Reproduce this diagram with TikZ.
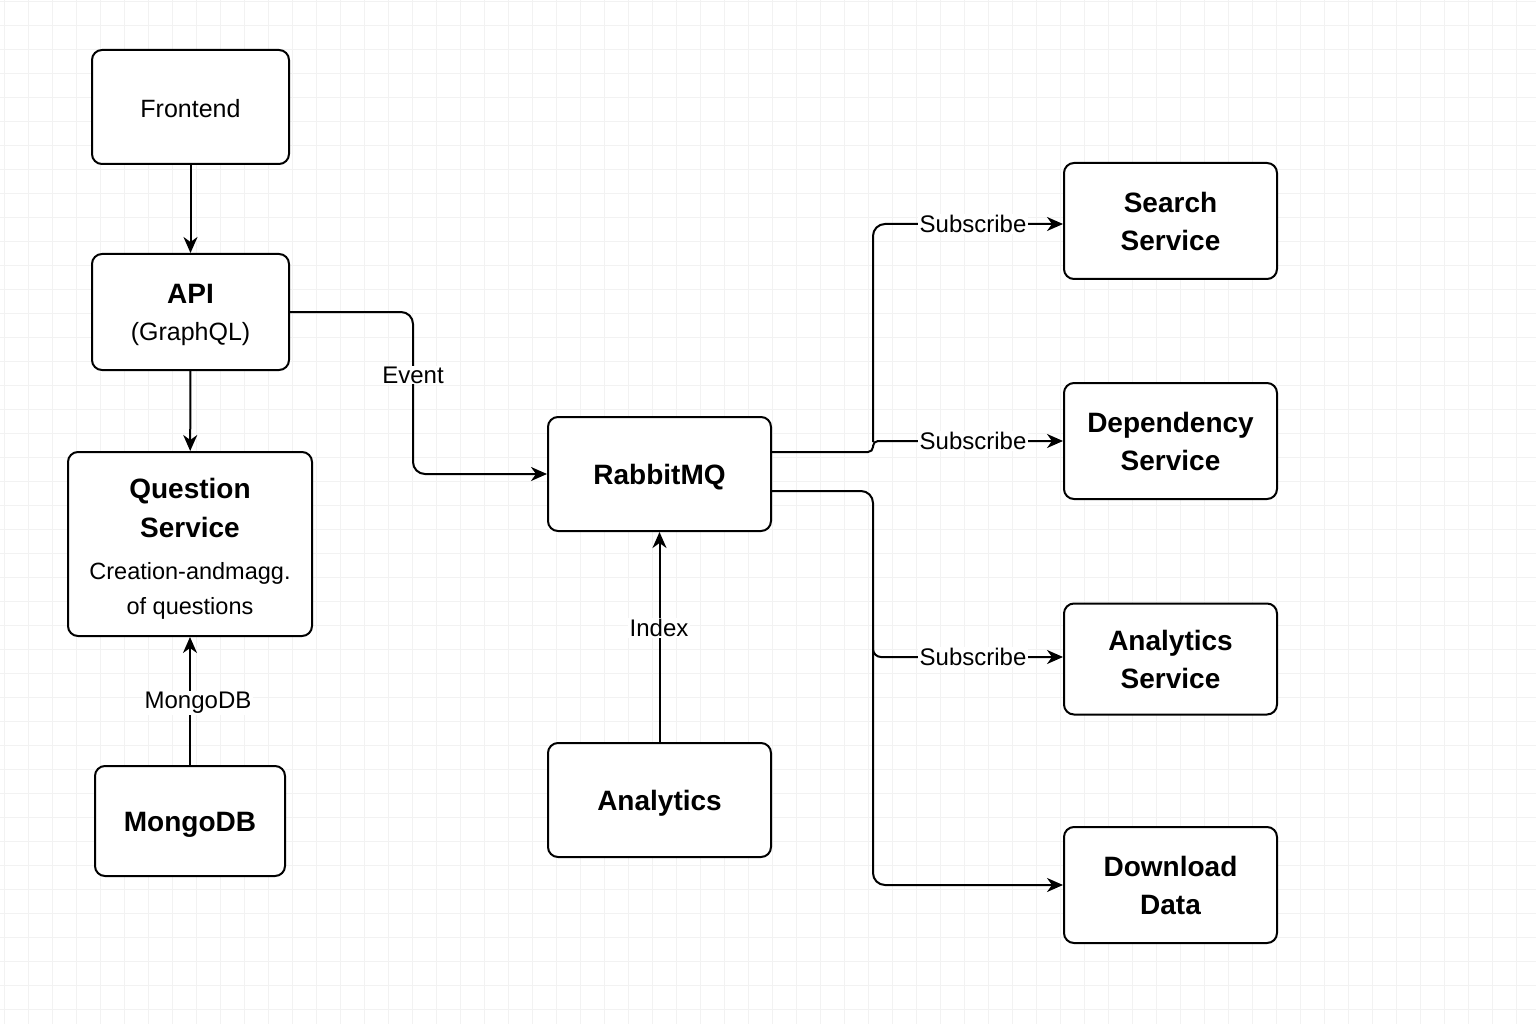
\documentclass[tikz,border=0pt]{standalone}
\usepackage{fontspec}
\setmainfont{Liberation Sans}
\usetikzlibrary{arrows.meta}
\newcommand\btfont{\fontsize{28}{38}\selectfont\bfseries}
\newcommand\rgfont{\fontsize{25}{38}\selectfont\mdseries}
\newcommand\lbfont{\fontsize{24}{28}\selectfont}
\begin{document}
\begin{tikzpicture}[x=1pt,y=-1pt,
  box/.style={draw, line width=2pt, rounded corners=10pt, fill=white, align=center, inner sep=0pt},
  onebold/.style={text height=20pt, text depth=0pt},
  conn/.style={line width=2pt, -{Stealth[length=16pt,width=14pt,inset=5pt]}},
  lbl/.style={fill=white, inner xsep=2pt, inner ysep=1pt, font=\lbfont},
  gridline/.style={draw=black!5, line width=0.8pt}]
\useasboundingbox (0,0) rectangle (1536,1024);
\fill[white] (0,0) rectangle (1536,1024);
\foreach \gx in {4,28,...,1540} \draw[gridline] (\gx,0) -- (\gx,1024);
\foreach \gy in {1,25,...,1030} \draw[gridline] (0,\gy) -- (1536,\gy);

% nodes
\node[box, minimum width=197pt, minimum height=114pt, font=\rgfont, text height=22pt, text depth=0pt] (frontend) at (190.5,107) {Frontend};
\node[box, minimum width=197pt, minimum height=116pt, font=\btfont] (api) at (190.5,312) {\rule{0pt}{25pt}API\\[-1pt]{\rgfont (GraphQL)}};
\node[box, minimum width=244pt, minimum height=184pt, font=\btfont] (qs) at (190,544) {\rule{0pt}{30pt}Question\\[1pt] Service\\[4pt]{\fontsize{23.5}{36}\selectfont\mdseries Creation-andmagg.}\\[-3pt]{\fontsize{23.5}{36}\selectfont\mdseries of questions}};
\node[box, onebold, minimum width=190pt, minimum height=110pt, font=\btfont] (mongo) at (190,821) {MongoDB};
\node[box, onebold, minimum width=223pt, minimum height=114pt, font=\btfont] (rabbit) at (659.5,474) {RabbitMQ};
\node[box, onebold, minimum width=223pt, minimum height=114pt, font=\btfont] (analytics) at (659.5,800) {Analytics};
\node[box, minimum width=213pt, minimum height=116pt, font=\btfont] (search) at (1170.5,221) {Search\\ Service};
\node[box, minimum width=213pt, minimum height=116pt, font=\btfont] (dep) at (1170.5,441) {Dependency\\ Service};
\node[box, minimum width=213pt, minimum height=111pt, font=\btfont] (asvc) at (1170.5,659) {Analytics\\ Service};
\node[box, minimum width=213pt, minimum height=116pt, font=\btfont] (dd) at (1170.5,885) {Download\\ Data};

% connectors
\draw[conn] (frontend) -- (api);
\draw[conn] (api) -- (qs);
\draw[conn] (mongo) -- (qs);
\draw[conn] (analytics) -- (rabbit);
\draw[conn, rounded corners=12pt] (api.east) -- (413,312) |- (rabbit.west);

\coordinate (r1) at ([yshift=22pt]rabbit.east);
\coordinate (r2) at ([yshift=-17pt]rabbit.east);
\coordinate (jtop) at (873,442);
\coordinate (jmid) at (873,640);
\draw[conn, rounded corners=5pt] (r1) -- (873,452) -- (873,441) -- (dep.west);
\draw[conn, rounded corners=12pt] (jtop) |- ([yshift=-3pt]search.west);
\draw[conn, rounded corners=12pt] (r2) -- (873,491) |- (dd.west);
\draw[conn, rounded corners=8pt] (jmid) |- ([yshift=2pt]asvc.west);

% labels
\node[lbl] (levent) at (413,375) {Event};
\node[lbl] (lmongo) at (198,703) {MongoDB};
\node[lbl] (lindex) at (659,628) {Index};
\node[lbl] (ls1) at (973,224) {Subscribe};
\node[lbl] (ls2) at (973,441) {Subscribe};
\node[lbl] (ls3) at (973,657) {Subscribe};
\end{tikzpicture}
\end{document}
